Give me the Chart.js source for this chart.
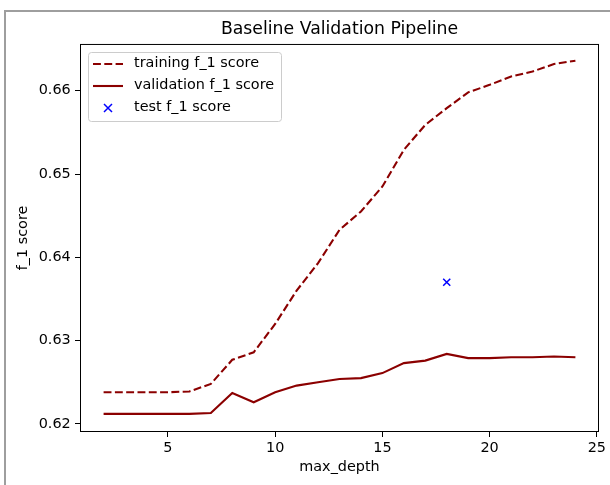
<!DOCTYPE html>
<html>
<head>
<meta charset="utf-8">
<script src="https://cdn.jsdelivr.net/npm/chart.js@4"></script>
<style>
    html, body { margin: 0; padding: 0; background: #ffffff; }
    canvas { display: block; }
</style>
</head>
<body>
<canvas id="f1-chart" width="610" height="485"></canvas>
<script>
// Données
const depths = [2, 3, 4, 5, 6, 7, 8, 9, 10, 11, 12, 13, 14, 15, 16, 17, 18, 19, 20, 21, 22, 23, 24];
const trainingF1 = [0.6238, 0.6238, 0.6238, 0.6238, 0.6239, 0.6248, 0.6277, 0.6286, 0.6320, 0.6360, 0.6393, 0.6433,
    0.6455, 0.6485, 0.6529, 0.6559, 0.6579, 0.6598, 0.6607, 0.6617, 0.6623, 0.6632, 0.6636];
const validationF1 = [0.6212, 0.6212, 0.6212, 0.6212, 0.6212, 0.6213, 0.6237, 0.6226, 0.6238, 0.6246, 0.6250, 0.6254,
    0.6255, 0.6261, 0.6273, 0.6276, 0.6284, 0.6279, 0.6279, 0.6280, 0.6280, 0.6281, 0.6280];
const testDepths = [18];
const testF1 = [0.637];

const xTicks = [5, 10, 15, 20, 25];
const yTicks = [0.62, 0.63, 0.64, 0.65, 0.66];

const FONT = "'DejaVu Sans', sans-serif";
const FONT_SIZE = 14.4;
const DARK_RED = '#8b0000';
const LINE_WIDTH = 2.1;
const TRAIN_DASH = [7.9, 3.4];

const toPoints = (xs, ys) => xs.map((x, i) => ({ x: x, y: ys[i] }));

// Cadre gris, bordure des axes et légende façon matplotlib
const framePlugin = {
    id: 'frame',
    beforeDraw(chart) {
        const c = chart.ctx;
        c.save();
        c.strokeStyle = '#9e9e9e';
        c.lineWidth = 2;
        c.beginPath();
        c.moveTo(5, chart.height);
        c.lineTo(5, 11);
        c.lineTo(chart.width, 11);
        c.stroke();
        c.restore();
    },
    afterDraw(chart) {
        const c = chart.ctx;
        const a = chart.chartArea;
        c.save();
        c.strokeStyle = '#000000';
        c.lineWidth = 1;
        c.strokeRect(a.left + 0.5, a.top + 0.5, a.right - a.left - 1, a.bottom - a.top - 1);

        // Légende
        const x0 = 88, y0 = 52, w = 193, h = 69, r = 3;
        c.fillStyle = 'rgba(255,255,255,0.8)';
        c.strokeStyle = '#cccccc';
        c.beginPath();
        c.roundRect(x0 + 0.5, y0 + 0.5, w, h, r);
        c.fill();
        c.stroke();

        const rows = [64, 86, 108];
        c.lineWidth = LINE_WIDTH;
        c.strokeStyle = DARK_RED;
        c.setLineDash(TRAIN_DASH);
        c.beginPath();
        c.moveTo(93, rows[0]);
        c.lineTo(123, rows[0]);
        c.stroke();
        c.setLineDash([]);
        c.beginPath();
        c.moveTo(93, rows[1]);
        c.lineTo(123, rows[1]);
        c.stroke();

        c.strokeStyle = '#0000ff';
        c.lineWidth = 1.5;
        c.beginPath();
        c.moveTo(104, rows[2] - 4);
        c.lineTo(112, rows[2] + 4);
        c.moveTo(112, rows[2] - 4);
        c.lineTo(104, rows[2] + 4);
        c.stroke();

        c.fillStyle = '#000000';
        c.font = FONT_SIZE + 'px ' + FONT;
        c.textAlign = 'left';
        c.textBaseline = 'middle';
        const labels = ['training f_1 score', 'validation f_1 score', 'test f_1 score'];
        labels.forEach((t, i) => c.fillText(t, 134, rows[i] - 0.8));
        c.restore();
    }
};

new Chart(document.getElementById('f1-chart'), {
    type: 'line',
    data: {
        datasets: [{
            label: 'training f_1 score',
            data: toPoints(depths, trainingF1),
            borderColor: DARK_RED,
            borderWidth: LINE_WIDTH,
            borderDash: TRAIN_DASH,
            pointRadius: 0,
            tension: 0,
            order: 3
        }, {
            label: 'validation f_1 score',
            data: toPoints(depths, validationF1),
            borderColor: DARK_RED,
            borderWidth: LINE_WIDTH,
            pointRadius: 0,
            tension: 0,
            order: 2
        }, {
            type: 'scatter',
            label: 'test f_1 score',
            data: toPoints(testDepths, testF1),
            pointStyle: 'crossRot',
            pointRadius: 5,
            borderColor: '#0000ff',
            backgroundColor: '#0000ff',
            borderWidth: 1.5,
            order: 1
        }]
    },
    options: {
        responsive: false,
        animation: false,
        events: [],
        layout: { padding: { left: 0, right: 11, top: 0, bottom: 0 } },
        plugins: {
            legend: { display: false },
            tooltip: { enabled: false },
            title: {
                display: true,
                text: 'Baseline Validation Pipeline',
                fullSize: false,
                color: '#000000',
                font: { family: FONT, size: 17.3, weight: 'normal', lineHeight: 1.2 },
                padding: { top: 19.3, bottom: 3.9 }
            }
        },
        scales: {
            x: {
                type: 'linear',
                min: 0.9,
                max: 25.1,
                afterBuildTicks: scale => { scale.ticks = xTicks.map(v => ({ value: v })); },
                afterFit: scale => { scale.height = 53; },
                border: { display: false },
                grid: { drawOnChartArea: false, drawTicks: true, tickLength: 5, color: '#000000', lineWidth: 1 },
                ticks: { color: '#000000', padding: 2.7, font: { family: FONT, size: FONT_SIZE } },
                title: {
                    display: true,
                    text: 'max_depth',
                    color: '#000000',
                    font: { family: FONT, size: FONT_SIZE, lineHeight: 1.2 },
                    padding: { top: 0, bottom: 8.7 }
                }
            },
            y: {
                type: 'linear',
                min: 0.61903,
                max: 0.66561,
                afterBuildTicks: scale => { scale.ticks = yTicks.map(v => ({ value: v })); },
                afterFit: scale => { scale.width = 80; },
                border: { display: false },
                grid: { drawOnChartArea: false, drawTicks: true, tickLength: 5, color: '#000000', lineWidth: 1 },
                ticks: {
                    color: '#000000',
                    padding: 4.3,
                    font: { family: FONT, size: FONT_SIZE },
                    callback: value => value.toFixed(2)
                },
                title: {
                    display: true,
                    text: 'f_1 score',
                    color: '#000000',
                    font: { family: FONT, size: FONT_SIZE, lineHeight: 1.2 },
                    padding: { top: 15, bottom: 0 }
                }
            }
        }
    },
    plugins: [framePlugin]
});
</script>
</body>
</html>
